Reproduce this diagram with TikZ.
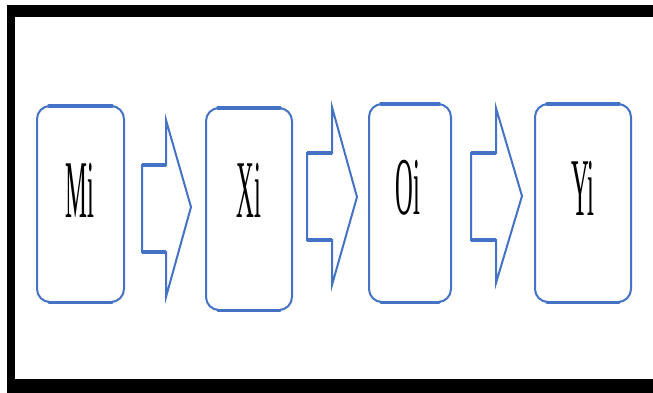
\documentclass[tikz,border=0pt]{standalone}
\usepackage{fontspec}
\setmainfont{Liberation Serif}
\definecolor{boxblue}{HTML}{4472C4}
% tall, condensed lettering for the stage names
\newcommand\narrowtext[1]{\scalebox{0.3}[1]{#1}}
\begin{document}
\begin{tikzpicture}[x=1pt,y=-1pt,
  stage/.style={draw=boxblue, line width=2pt, rounded corners=13pt, rectangle, inner sep=0pt},
  flowarrow/.style={draw=boxblue, line width=2pt, line join=miter},
  edge/.style={draw=boxblue, line width=3.5pt},
  tag/.style={inner sep=0pt, font=\fontsize{82}{82}\selectfont}]
\useasboundingbox (0,0) rectangle (653,392);

% heavy black frame (open on the right)
\fill[black] (7,5) rectangle (660,17);
\fill[black] (7,5) rectangle (15,395);
\fill[black] (7,379) rectangle (660,395);

% stage boxes
\node[stage, minimum width=87pt, minimum height=196pt] (m) at (80.5,204) {};
\node[stage, minimum width=86pt, minimum height=202pt] (x) at (249,209) {};
\node[stage, minimum width=82pt, minimum height=198pt] (o) at (410,203) {};
\node[stage, minimum width=96pt, minimum height=198pt] (y) at (583,203) {};

% heavier top and bottom edges of the boxes
\foreach \b in {m,x,o,y}{
  \draw[edge, line cap=round] ([xshift=13pt,yshift=-0.75pt]\b.north west) -- ([xshift=-13pt,yshift=-0.75pt]\b.north east);
  \draw[edge, line cap=round] ([xshift=13pt,yshift=0.75pt]\b.south west) -- ([xshift=-13pt,yshift=0.75pt]\b.south east);
}

% stage names
\node[tag] (mi) at (79.5,190) {\narrowtext{Mi}};
\node[tag] (xi) at (249,190) {\narrowtext{Xi}};
\node[tag] (oi) at (408,188) {\narrowtext{Oi}};
\node[tag] (yi) at (583,188) {\narrowtext{Yi}};

% block arrows between the stages
\draw[flowarrow] (142,165) -- (166,165) -- (166,120) -- (191,207) -- (166,297) -- (166,252) -- (142,252) -- cycle;
\draw[edge] (142,165) -- (166,165) (142,252) -- (166,252);

\draw[flowarrow] (307,153) -- (332,153) -- (332,107) -- (357,197) -- (332,285) -- (332,240) -- (307,240) -- cycle;
\draw[edge] (307,153) -- (332,153) (307,240) -- (332,240);

\draw[flowarrow] (471,153) -- (496,153) -- (496,108) -- (522,196) -- (496,283) -- (496,240) -- (471,240) -- cycle;
\draw[edge] (471,153) -- (496,153) (471,240) -- (496,240);
\end{tikzpicture}
\end{document}
